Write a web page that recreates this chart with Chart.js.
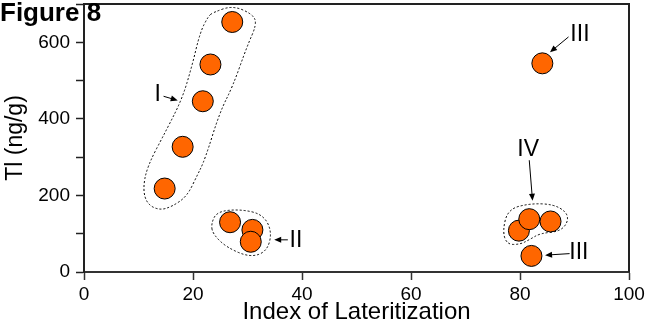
<!DOCTYPE html>
<html lang="en">
<head>
  <meta charset="UTF-8" />
  <title>Figure 8</title>
  <script src="https://cdn.jsdelivr.net/npm/chart.js"></script>
  <style>
    body { margin: 0; background: #fff; }
    #wrap { position: relative; width: 645px; height: 327px; }
  </style>
</head>
<body>
  <div id="wrap">
    <canvas id="fig8" width="645" height="327"></canvas>
  </div>

  <script>
    // sample values
    const lateritization = [27.2, 23.2, 21.8, 18.1, 14.8, 26.8, 30.9, 30.6, 84.1, 79.8, 81.7, 85.6, 82.1];
    const thallium = [653, 542, 446, 327, 218, 130, 110, 79, 545, 108, 138, 132, 42];

    const xTicks = [0, 20, 40, 60, 80, 100];
    const yLabelled = [0, 200, 400, 600];

    // dotted group outlines, in data units (Index, Tl)
    const groupI = [[23.7, 678], [27.3, 696], [31.0, 673], [31.7, 647], [29.9, 589], [27.3, 485], [24.9, 417],
      [22.2, 294], [20.7, 250], [18.9, 198], [16.3, 172], [13.9, 161], [11.6, 177], [10.8, 216], [11.6, 276],
      [15.2, 373], [18.0, 452], [19.8, 537], [21.3, 626], [22.8, 668]];
    const groupII = [[23.3, 125], [24.4, 158], [28.6, 164], [32.8, 151], [34.5, 106], [33.6, 54], [30.5, 38],
      [26.2, 64], [23.7, 98]];
    const groupIV = [[76.8, 107], [77.8, 164], [81.8, 179], [86.1, 177], [88.6, 156], [88.8, 130], [87.3, 106],
      [83.7, 101], [81.8, 85], [80.0, 72], [77.6, 72]];

    // labels with arrows: text, label pos, arrow start, arrow end
    const labels = [
      { text: 'I', at: [13.5, 464], from: [14.6, 459], to: [17.2, 448] },
      { text: 'II', at: [38.9, 81], from: [37.4, 84], to: [34.9, 84] },
      { text: 'III', at: [91.0, 621], from: [88.9, 614], to: [85.5, 574] },
      { text: 'IV', at: [81.5, 320], from: [81.7, 292], to: [82.3, 186] },
      { text: 'III', at: [90.8, 50], from: [89.1, 48], to: [84.6, 44] }
    ];

    const FONT = '"Liberation Sans", Arial, Helvetica, sans-serif';

    function smoothOutline(ctx, pts) {
      const n = pts.length;
      const mid = (a, b) => [(a[0] + b[0]) / 2, (a[1] + b[1]) / 2];
      let m = mid(pts[n - 1], pts[0]);
      ctx.beginPath();
      ctx.moveTo(m[0], m[1]);
      for (let i = 0; i < n; i++) {
        const nxt = mid(pts[i], pts[(i + 1) % n]);
        ctx.quadraticCurveTo(pts[i][0], pts[i][1], nxt[0], nxt[1]);
      }
      ctx.closePath();
      ctx.stroke();
    }

    const extras = {
      id: 'extras',
      beforeDatasetsDraw(chart) {
        const { ctx, scales: { x, y } } = chart;
        const px = p => [x.getPixelForValue(p[0]), y.getPixelForValue(p[1])];
        ctx.save();
        ctx.strokeStyle = '#000';
        ctx.lineWidth = 1;
        ctx.setLineDash([2, 2]);
        [groupI, groupII, groupIV].forEach(g => smoothOutline(ctx, g.map(px)));
        ctx.restore();
      },
      afterDraw(chart) {
        const { ctx, chartArea: a, scales: { x, y } } = chart;
        const px = p => [x.getPixelForValue(p[0]), y.getPixelForValue(p[1])];
        ctx.save();
        // top + right frame
        ctx.strokeStyle = '#222';
        ctx.lineWidth = 2;
        ctx.beginPath();
        ctx.moveTo(a.left, a.top);
        ctx.lineTo(a.right, a.top);
        ctx.lineTo(a.right, a.bottom);
        ctx.stroke();

        // group labels and arrows
        ctx.fillStyle = '#000';
        ctx.strokeStyle = '#000';
        ctx.lineWidth = 1;
        ctx.font = '23px ' + FONT;
        ctx.textAlign = 'center';
        ctx.textBaseline = 'middle';
        labels.forEach(l => {
          const t = px(l.at), s = px(l.from), e = px(l.to);
          ctx.fillText(l.text, t[0], t[1]);
          const ang = Math.atan2(e[1] - s[1], e[0] - s[0]);
          ctx.beginPath();
          ctx.moveTo(s[0], s[1]);
          ctx.lineTo(e[0] - 5 * Math.cos(ang), e[1] - 5 * Math.sin(ang));
          ctx.stroke();
          ctx.beginPath();
          ctx.moveTo(e[0], e[1]);
          ctx.lineTo(e[0] - 7 * Math.cos(ang) + 3 * Math.sin(ang), e[1] - 7 * Math.sin(ang) - 3 * Math.cos(ang));
          ctx.lineTo(e[0] - 7 * Math.cos(ang) - 3 * Math.sin(ang), e[1] - 7 * Math.sin(ang) + 3 * Math.cos(ang));
          ctx.closePath();
          ctx.fill();
        });

        // figure tag
        ctx.font = 'bold 26px ' + FONT;
        ctx.textAlign = 'left';
        ctx.textBaseline = 'alphabetic';
        ctx.fillText('Figure 8', 0, 21);
        ctx.restore();
      }
    };

    new Chart(document.getElementById('fig8'), {
      type: 'scatter',
      data: {
        datasets: [{
          data: lateritization.map((v, i) => ({ x: v, y: thallium[i] })),
          backgroundColor: '#FF6600',
          borderColor: '#000',
          borderWidth: 1,
          pointRadius: 10.5,
          pointHoverRadius: 10.5
        }]
      },
      options: {
        responsive: false,
        animation: false,
        layout: { autoPadding: false, padding: { top: 4, right: 16 } },
        plugins: { legend: { display: false }, tooltip: { enabled: false } },
        scales: {
          x: {
            type: 'linear', min: 0, max: 100,
            afterBuildTicks: s => { s.ticks = xTicks.map(v => ({ value: v })); },
            afterFit: s => { s.height = 55; s.paddingLeft = 0; s.paddingRight = 0; },
            border: { color: '#333', width: 2 },
            grid: { drawOnChartArea: false, tickLength: 8, color: '#333', tickWidth: 1.5 },
            ticks: { color: '#000', font: { family: FONT, size: 19 }, padding: 3, maxRotation: 0 },
            title: { display: true, text: 'Index of Lateritization', color: '#000', font: { family: FONT, size: 24 }, padding: { top: -4, bottom: 0 } }
          },
          y: {
            type: 'linear', min: 0, max: 700,
            ticks: {
              stepSize: 100, color: '#000', font: { family: FONT, size: 19 }, padding: 6,
              callback: v => yLabelled.includes(v) ? String(v) : ''
            },
            afterFit: s => { s.width = 84; s.paddingTop = 0; s.paddingBottom = 0; },
            border: { color: '#222', width: 2 },
            grid: { drawOnChartArea: false, tickLength: 8, color: '#222', tickWidth: 1.5 },
            title: { display: true, text: 'Tl (ng/g)', color: '#000', font: { family: FONT, size: 23 }, padding: { top: 2, bottom: 0 } }
          }
        }
      },
      plugins: [extras]
    });
  </script>
</body>
</html>
